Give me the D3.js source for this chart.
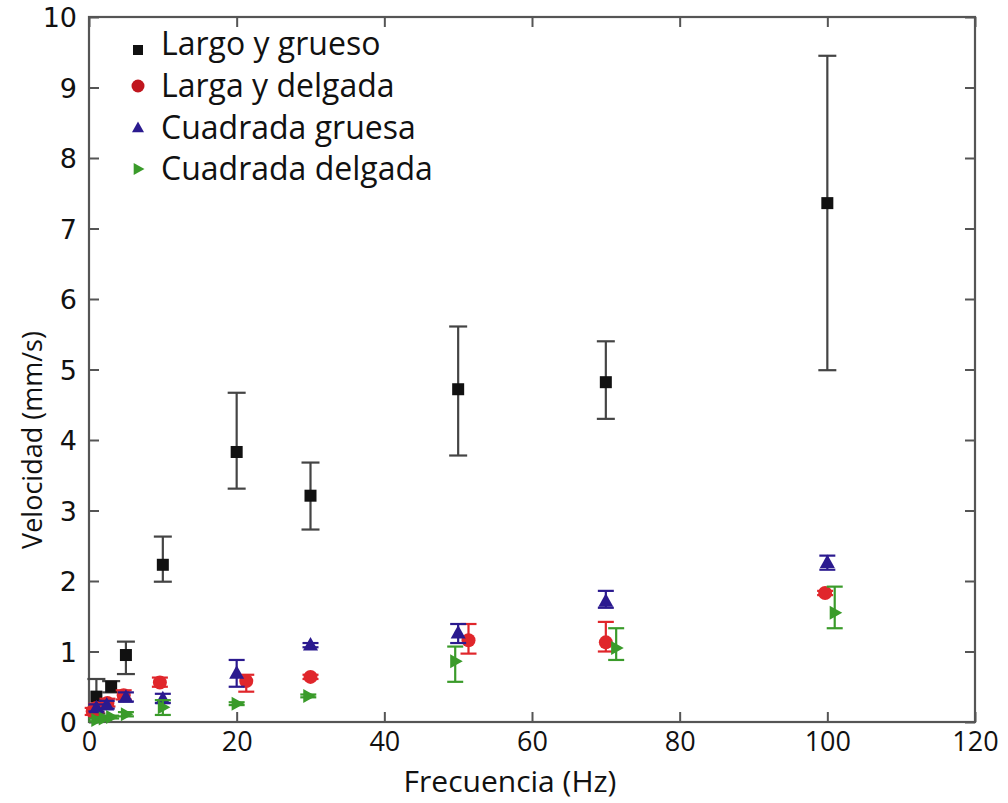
<!DOCTYPE html>
<html><head><meta charset="utf-8">
<script src="https://cdn.jsdelivr.net/npm/d3@7/dist/d3.min.js"></script>
<style>body{margin:0;background:#fff}svg{display:block}</style>
</head><body>
<svg id="c" width="1008" height="803"></svg>
<script>
// Data: [frequency Hz, value, upper error, lower error]
const seriesNames = ["Largo y grueso", "Larga y delgada", "Cuadrada gruesa", "Cuadrada delgada"];
const seriesColors = ["#111111", "#e0262b", "#2b1a8f", "#3a9b2a"];
const legendColors = ["#111111", "#c0161e", "#2b1a8f", "#3a9b2a"];
const largoGrueso = [[1,0.36,0.61,0.12],[3,0.5,0.58,0.42],[5,0.95,1.14,0.68],[10,2.23,2.63,1.99],[20,3.83,4.67,3.31],[30,3.21,3.68,2.73],[50,4.72,5.61,3.78],[70,4.82,5.40,4.30],[100,7.36,9.45,4.99]];
const largaDelgada = [[0.5,0.15,0.2,0.1],[1,0.2,0.26,0.14],[2.5,0.27,0.33,0.22],[4.7,0.38,0.45,0.32],[9.6,0.56,0.63,0.5],[21.3,0.58,0.67,0.43],[30,0.64,0.67,0.61],[51.4,1.16,1.39,0.97],[70,1.13,1.42,1.0],[99.7,1.83,1.86,1.8]];
const cuadradaGruesa = [[1,0.2,0.25,0.15],[2.4,0.24,0.3,0.19],[5,0.35,0.42,0.29],[10,0.33,0.4,0.27],[20,0.69,0.88,0.5],[30,1.09,1.12,1.06],[50,1.26,1.39,1.12],[70,1.71,1.86,1.62],[100,2.26,2.36,2.16]];
const cuadradaDelgada = [[1,0.03,0.05,0.01],[2,0.05,0.07,0.03],[3,0.07,0.09,0.05],[5,0.11,0.14,0.08],[10,0.21,0.31,0.1],[20,0.26,0.28,0.24],[29.7,0.37,0.39,0.35],[49.6,0.86,1.07,0.57],[71.4,1.05,1.33,0.88],[101,1.55,1.92,1.33]];
const allSeries = [largoGrueso, largaDelgada, cuadradaGruesa, cuadradaDelgada];
const xTicks = [0,20,40,60,80,100,120];
const yTicks = [0,1,2,3,4,5,6,7,8,9,10];

const svg = d3.select("#c");
const L=89, R=975, T=17, B=722;
const x = d3.scaleLinear().domain([0,120]).range([L,R]);
const y = d3.scaleLinear().domain([0,10]).range([B,T]);
const frameColor = "#555";

svg.append("rect").attr("x",L).attr("y",T).attr("width",R-L).attr("height",B-T)
  .attr("fill","none").attr("stroke",frameColor).attr("stroke-width",2.2);

const tickLen = 10;
const gx = svg.append("g").attr("transform",`translate(0,${B})`)
  .call(d3.axisBottom(x).tickValues(xTicks).tickSize(-tickLen).tickPadding(10).tickFormat(d3.format("d")));
const gxt = svg.append("g").attr("transform",`translate(0,${T})`)
  .call(d3.axisTop(x).tickValues(xTicks).tickSize(-tickLen).tickFormat(""));
const gy = svg.append("g").attr("transform",`translate(${L},0)`)
  .call(d3.axisLeft(y).tickValues(yTicks).tickSize(-tickLen).tickPadding(12).tickFormat(d3.format("d")));
const gyr = svg.append("g").attr("transform",`translate(${R},0)`)
  .call(d3.axisRight(y).tickValues(yTicks).tickSize(-tickLen).tickFormat(""));
[gx,gxt,gy,gyr].forEach(g=>{
  g.select(".domain").remove();
  g.selectAll(".tick line").attr("stroke",frameColor).attr("stroke-width",2);
});
gx.selectAll(".tick text").attr("font-family","'Liberation Sans Narrow','Open Sans',sans-serif")
  .attr("font-size",27).attr("fill","#111").attr("dy","0.71em");
gy.selectAll(".tick text").attr("font-family","'DejaVu Sans',sans-serif")
  .attr("font-size",27).attr("fill","#111").attr("dy","0.36em");

svg.append("text").attr("x",510).attr("y",792).attr("text-anchor","middle")
  .attr("font-family","'Open Sans',sans-serif").attr("font-size",30).attr("fill","#111")
  .text("Frecuencia (Hz)");
svg.append("text").attr("transform",`translate(42,440) rotate(-90)`).attr("text-anchor","middle")
  .attr("font-family","'Open Sans',sans-serif").attr("font-size",27).attr("fill","#111")
  .text("Velocidad  (mm/s)");

function marker(g, type, cx, cy, color, s){
  if(type===0){
    g.append("rect").attr("x",cx-s/2).attr("y",cy-s/2).attr("width",s).attr("height",s).attr("fill",color);
  } else if(type===1){
    g.append("circle").attr("cx",cx).attr("cy",cy).attr("r",s/2).attr("fill",color);
  } else if(type===2){
    const h=s*0.9;
    g.append("path").attr("d",`M${cx},${cy-h*0.6}L${cx+s/2},${cy+h*0.4}L${cx-s/2},${cy+h*0.4}Z`).attr("fill",color);
  } else {
    const h=s*0.9;
    g.append("path").attr("d",`M${cx+h*0.6},${cy}L${cx-h*0.4},${cy-s/2}L${cx-h*0.4},${cy+s/2}Z`).attr("fill",color);
  }
}

const markerSizes = [12,14,15,14];
const errColors = ["#444","#e0262b","#2b1a8f","#3a9b2a"];
const capW = [18,16,16,16];
allSeries.forEach((data,si)=>{
  const g = svg.append("g");
  data.forEach(d=>{
    const cx=x(d[0]);
    g.append("line").attr("x1",cx).attr("x2",cx).attr("y1",y(d[2])).attr("y2",y(d[3]))
      .attr("stroke",errColors[si]).attr("stroke-width",2.2);
    [d[2],d[3]].forEach(v=>{
      g.append("line").attr("x1",cx-capW[si]/2).attr("x2",cx+capW[si]/2).attr("y1",y(v)).attr("y2",y(v))
        .attr("stroke",errColors[si]).attr("stroke-width",2.2);
    });
    marker(g, si, cx, y(d[1]), seriesColors[si], markerSizes[si]);
  });
});

const legY = [44,86,128,169];
const lg = svg.append("g");
seriesNames.forEach((n,i)=>{
  marker(lg, i, 138, legY[i]+ (i===0?6:0), legendColors[i], [10,13,12,12][i]);
  lg.append("text").attr("x",161).attr("y",legY[i]+11).attr("font-family","'Open Sans',sans-serif")
    .attr("font-size",32).attr("fill","#111").text(n);
});
</script>
</body></html>
